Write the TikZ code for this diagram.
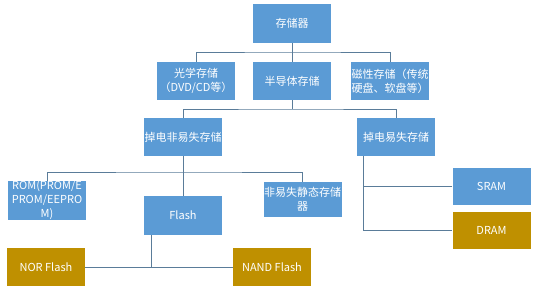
\documentclass[tikz,border=0pt]{standalone}
\usepackage{fontspec}
\setmainfont{Noto Sans CJK SC}
\definecolor{bbox}{HTML}{5B9BD5}
\definecolor{gbox}{HTML}{BF9000}
\definecolor{lnk}{HTML}{5A7C99}
\begin{document}
\begin{tikzpicture}[x=1pt,y=-1pt,
  box/.style={fill=bbox,draw=none,minimum width=78pt,minimum height=38pt,inner sep=0pt,
    text=white,align=center,font=\fontsize{11}{14}\selectfont},
  gold/.style={box,fill=gbox},
  link/.style={draw=lnk,line width=1pt}]
\useasboundingbox[fill=white] (0,0) rectangle (534,290);
\node[box,minimum height=39pt] (top) at (292,23.5) {存储器};
\node[box] (opt) at (196,81) {光学存储\\（DVD/CD等）};
\node[box] (semi) at (292,81) {半导体存储};
\node[box] (mag) at (390,81) {磁性存储（传统\\硬盘、软盘等）};
\node[box] (nv) at (183,137) {掉电非易失存储};
\node[box] (vol) at (396,137) {掉电易失存储};
\node[box,minimum height=37pt] (rom) at (47,200.5) {ROM(PROM/E\\PROM/EEPRO\\M)};
\node[box,minimum height=39pt] (flash) at (183,215.5) {Flash};
\node[box,minimum height=35pt] (nvs) at (302.5,199.5) {非易失静态存储\\器};
\node[gold] (nor) at (46,267) {NOR Flash};
\node[gold] (nand) at (272,267) {NAND Flash};
\node[box,minimum height=37pt] (sram) at (491.5,186) {SRAM};
\node[gold,minimum height=37pt] (dram) at (491.5,230.5) {DRAM};
\coordinate (j1) at (292,52);
\coordinate (j2) at (292,109);
\coordinate (j3) at (183,172);
\coordinate (j4) at (151,267);
\coordinate (j5) at (363,230.5);
\draw[link] (top.south) -- (semi.north);
\draw[link] (opt.north) |- (j1) -| (mag.north);
\draw[link] (semi.south) -- (j2);
\draw[link] (nv.north) |- (j2) -| (vol.north);
\draw[link] (nv.south) -- (flash.north);
\draw[link] (rom.north) |- (j3) -| (nvs.north);
\draw[link] (flash.south -| j4) -- (j4);
\draw[link] (nor.east) -- (nand.west);
\draw[link] (vol.south -| j5) -- (j5) -- (dram.west);
\draw[link] (sram.west) -- (sram.west -| j5);
\end{tikzpicture}
\end{document}
